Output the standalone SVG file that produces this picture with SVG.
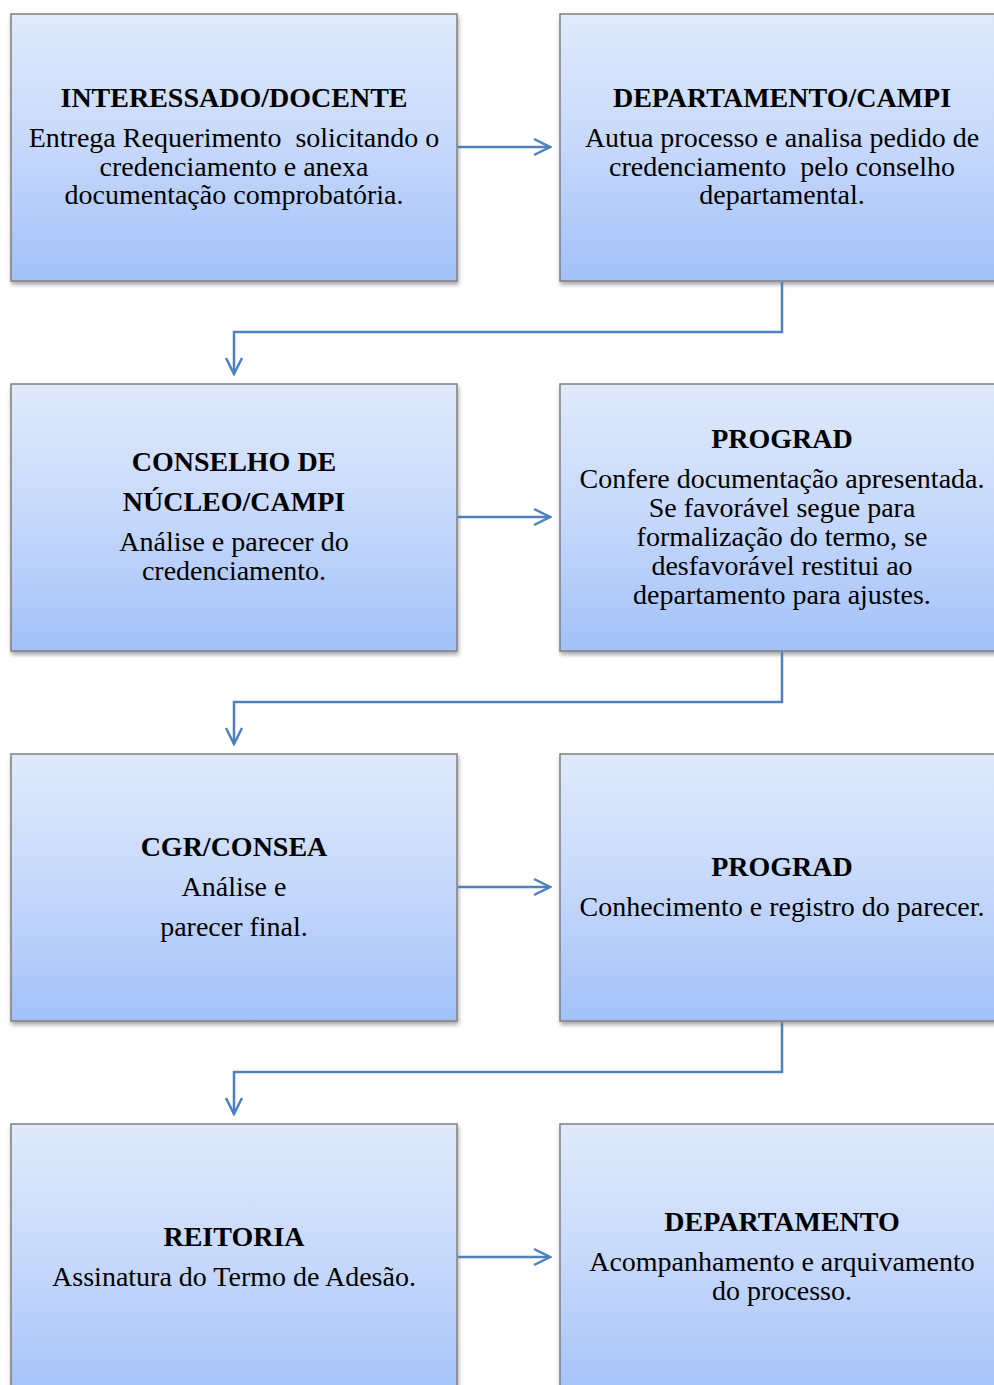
<svg xmlns="http://www.w3.org/2000/svg" width="994" height="1385" viewBox="0 0 994 1385">
<defs>
<linearGradient id="g" x1="0" y1="0" x2="0" y2="1">
<stop offset="0" stop-color="#e0eafb"/>
<stop offset="0.5" stop-color="#c6d8fb"/>
<stop offset="1" stop-color="#a2c1f9"/>
</linearGradient>
<filter id="sh" x="-5%" y="-5%" width="112%" height="115%">
<feDropShadow dx="1" dy="3" stdDeviation="2" flood-color="#000" flood-opacity="0.35"/>
</filter>
<marker id="ah" viewBox="0 0 20 20" refX="18" refY="10" markerWidth="20" markerHeight="20" markerUnits="userSpaceOnUse" orient="auto">
<path d="M2,2 L18,10 L2,18" fill="none" stroke="#4f81bd" stroke-width="2.5"/>
</marker>
</defs>
<style>
.box{fill:url(#g);stroke:#7f7f7f;stroke-width:1.5;filter:url(#sh)}
.t{font-family:"Liberation Serif","Times New Roman",serif;font-weight:bold;font-size:28px;fill:#000;text-anchor:middle}
.b{font-family:"Liberation Serif","Times New Roman",serif;font-size:28px;fill:#000;text-anchor:middle}
.c{fill:none;stroke:#4f81bd;stroke-width:2.5;marker-end:url(#ah)}
</style>
<rect width="994" height="1385" fill="#fff"/>
<g id="n1"><rect class="box" x="11" y="14" width="446" height="267"/>
<text class="t" x="234" y="107">INTERESSADO/DOCENTE</text>
<text class="b" x="234" y="147" xml:space="preserve">Entrega Requerimento  solicitando o</text>
<text class="b" x="234" y="176">credenciamento e anexa</text>
<text class="b" x="234" y="204">documentação comprobatória.</text></g>
<g id="n2"><rect class="box" x="560" y="14" width="446" height="267"/>
<text class="t" x="782" y="107">DEPARTAMENTO/CAMPI</text>
<text class="b" x="782" y="147">Autua processo e analisa pedido de</text>
<text class="b" x="782" y="176" xml:space="preserve">credenciamento  pelo conselho</text>
<text class="b" x="782" y="204">departamental.</text></g>
<g id="n3"><rect class="box" x="11" y="384" width="446" height="267"/>
<text class="t" x="234" y="471">CONSELHO DE</text>
<text class="t" x="234" y="511">NÚCLEO/CAMPI</text>
<text class="b" x="234" y="551">Análise e parecer do</text>
<text class="b" x="234" y="580">credenciamento.</text></g>
<g id="n4"><rect class="box" x="560" y="384" width="446" height="267"/>
<text class="t" x="782" y="448">PROGRAD</text>
<text class="b" x="782" y="488">Confere documentação apresentada.</text>
<text class="b" x="782" y="517">Se favorável segue para</text>
<text class="b" x="782" y="546">formalização do termo, se</text>
<text class="b" x="782" y="575">desfavorável restitui ao</text>
<text class="b" x="782" y="604">departamento para ajustes.</text></g>
<g id="n5"><rect class="box" x="11" y="754" width="446" height="267"/>
<text class="t" x="234" y="856">CGR/CONSEA</text>
<text class="b" x="234" y="896">Análise e</text>
<text class="b" x="234" y="936">parecer final.</text></g>
<g id="n6"><rect class="box" x="560" y="754" width="446" height="267"/>
<text class="t" x="782" y="876">PROGRAD</text>
<text class="b" x="782" y="916">Conhecimento e registro do parecer.</text></g>
<g id="n7"><rect class="box" x="11" y="1124" width="446" height="280"/>
<text class="t" x="234" y="1246">REITORIA</text>
<text class="b" x="234" y="1286">Assinatura do Termo de Adesão.</text></g>
<g id="n8"><rect class="box" x="560" y="1124" width="446" height="280"/>
<text class="t" x="782" y="1231">DEPARTAMENTO</text>
<text class="b" x="782" y="1271">Acompanhamento e arquivamento</text>
<text class="b" x="782" y="1300">do processo.</text></g>
<g id="connectors">
<path class="c" d="M458,147 H550"/>
<path class="c" d="M458,517 H550"/>
<path class="c" d="M458,887 H550"/>
<path class="c" d="M458,1257 H550"/>
<path class="c" d="M782,282 V332 H234 V374"/>
<path class="c" d="M782,652 V702 H234 V744"/>
<path class="c" d="M782,1022 V1072 H234 V1114"/>
</g>
</svg>
